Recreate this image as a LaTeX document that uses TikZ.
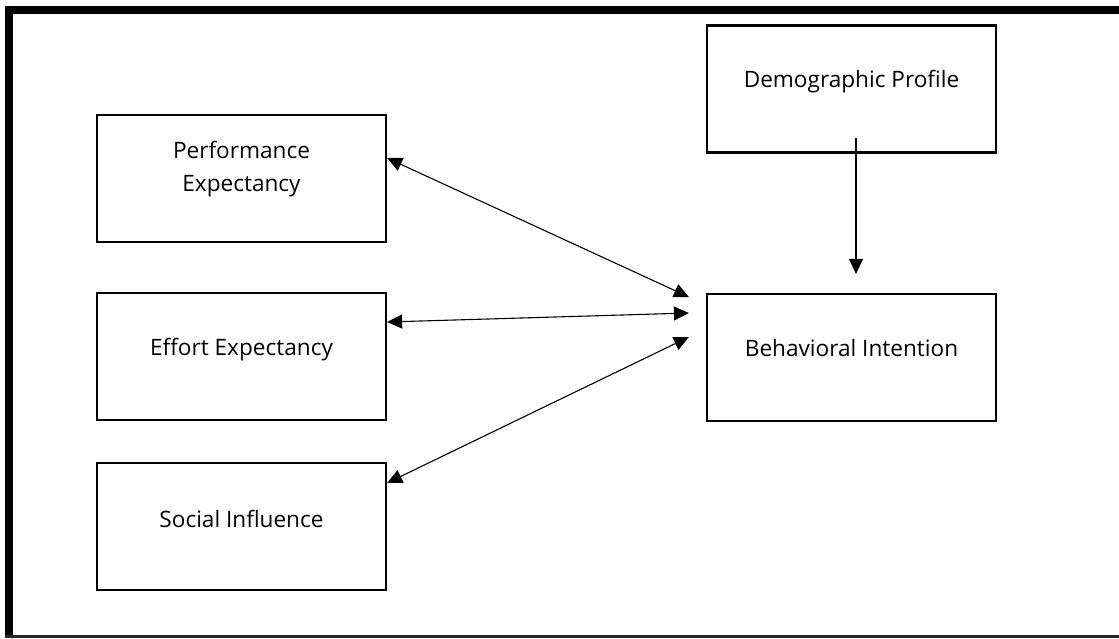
\documentclass[tikz,border=0pt]{standalone}
\usepackage{fontspec}
\setmainfont{Open Sans}
\usetikzlibrary{arrows.meta,calc}
\begin{document}
\begin{tikzpicture}[x=1pt,y=-1pt,
  box/.style={draw=black,line width=2.2pt,minimum width=289pt,minimum height=127pt,inner sep=0pt},
  lbl/.style={font=\fontsize{22.6}{33}\selectfont,align=center},
  link/.style={line width=1.1pt,{Triangle[length=15pt,width=14pt]}-{Triangle[length=15pt,width=14pt]}},
  onelink/.style={line width=1.1pt,-{Triangle[length=15pt,width=14pt]}}]
\useasboundingbox (0,0) rectangle (1119,638);
\fill[white] (0,0) rectangle (1119,638);
% outer frame
\fill[black] (5,6) rectangle (13,638);
\fill[black] (5,6) rectangle (1119,14);
\fill[black!85] (5,634.5) rectangle (1119,637.5);
% boxes
\node[box,label={[lbl,yshift=9pt]center:Performance\\Expectancy}] (pe) at (241.5,178.5) {};
\node[box,label={[lbl,yshift=7pt]center:Effort Expectancy}] (ee) at (241.5,356.5) {};
\node[box,label={[lbl,yshift=8pt]center:Social Influence}] (si) at (241.5,526.5) {};
\node[box,label={[lbl,yshift=7pt]center:Demographic Profile}] (dp) at (851.5,89) {};
\node[box,label={[lbl,yshift=9pt]center:Behavioral Intention}] (bi) at (851.5,357.5) {};
% connectors
\draw[link] ($(pe.east)+(0,-20.5)$) -- ($(bi.west)+(-17,-60.5)$);
\draw[link] ($(ee.east)+(0,-34.5)$) -- ($(bi.west)+(-17,-44.5)$);
\draw[link] ($(si.east)+(0,-43.5)$) -- ($(bi.west)+(-17,-20.5)$);
\draw[onelink] ($(dp.south)+(4.5,-16)$) -- ($(bi.north)+(4.5,-19)$);
\end{tikzpicture}
\end{document}
